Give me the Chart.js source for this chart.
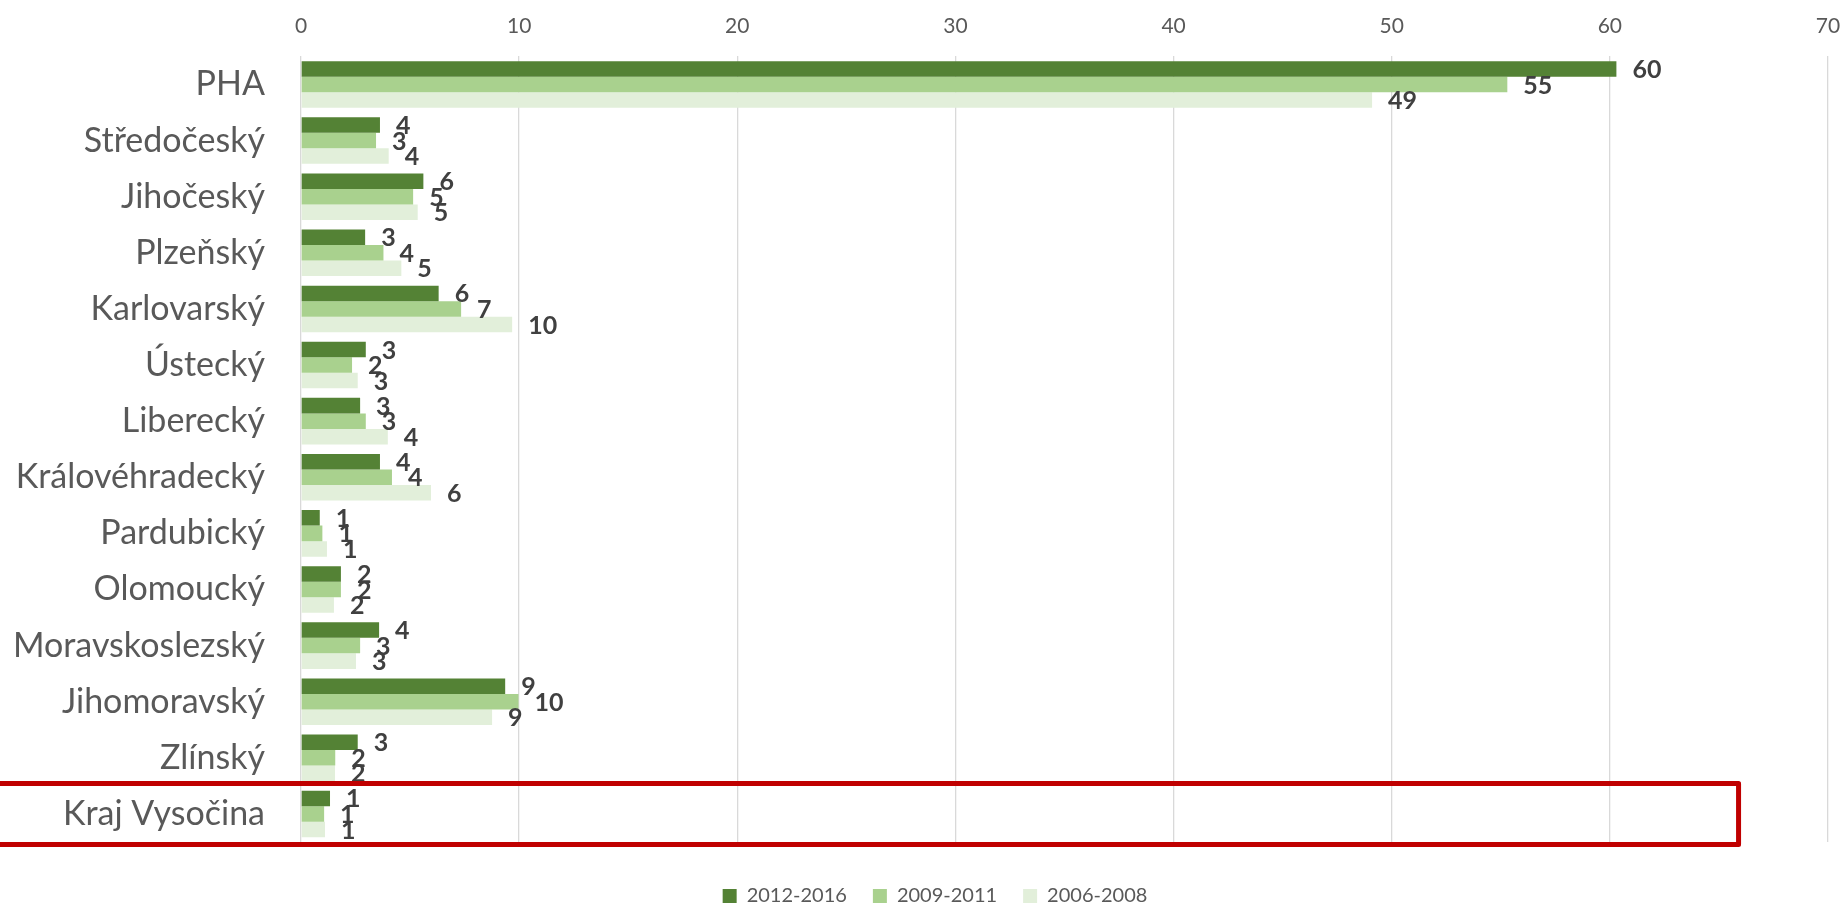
<!DOCTYPE html>
<html>
<head>
<meta charset="utf-8">
<script src="https://cdn.jsdelivr.net/npm/chart.js@4/dist/chart.umd.min.js"></script>
<style>
html,body{margin:0;padding:0;background:#fff;}
#wrap{width:1843px;height:904px;position:relative;}
</style>
</head>
<body>
<div id="wrap"><canvas id="c" width="1843" height="904"></canvas></div>
<script>
const categories = ['PHA','Středočeský','Jihočeský','Plzeňský','Karlovarský','Ústecký','Liberecký','Královéhradecký','Pardubický','Olomoucký','Moravskoslezský','Jihomoravský','Zlínský','Kraj Vysočina'];
const seriesNames = ['2012-2016','2009-2011','2006-2008'];
const values2012_2016 = [60.3,3.62,5.61,2.94,6.31,2.97,2.71,3.62,0.86,1.83,3.58,9.36,2.60,1.33];
const values2009_2011 = [55.3,3.44,5.14,3.78,7.34,2.34,2.97,4.17,0.98,1.83,2.71,9.97,1.57,1.06];
const values2006_2008 = [49.1,4.02,5.35,4.60,9.68,2.60,3.98,5.96,1.19,1.51,2.52,8.76,1.56,1.10];
const xMin = 0, xMax = 70, xStep = 10;
const highlightCategory = 'Kraj Vysočina';
const highlightRightValue = 65.9;

const colors = ['#548235','#A9D18E','#E2EFDA'];

Chart.defaults.font.family = 'Lato';

const valueLabels = {
  id: 'valueLabels',
  afterDatasetsDraw(chart) {
    const ctx = chart.ctx;
    ctx.save();
    ctx.font = 'bold 25px Lato';
    ctx.fillStyle = '#404040';
    ctx.textAlign = 'left';
    ctx.textBaseline = 'middle';
    chart.data.datasets.forEach((ds, di) => {
      const meta = chart.getDatasetMeta(di);
      meta.data.forEach((el, i) => {
        ctx.fillText(String(Math.round(ds.data[i])), el.x + 16, el.y + 1);
      });
    });
    ctx.restore();
  }
};

const highlightBox = {
  id: 'highlightBox',
  afterDraw(chart) {
    const ctx = chart.ctx;
    const ys = chart.scales.y, xs = chart.scales.x;
    const idx = categories.indexOf(highlightCategory);
    const yc = ys.getPixelForValue(idx);
    const top = yc - 30.5, bottom = yc + 30.5;
    const right = xs.getPixelForValue(highlightRightValue);
    ctx.save();
    ctx.strokeStyle = '#C00000';
    ctx.lineWidth = 5;
    ctx.lineJoin = 'round';
    ctx.beginPath();
    ctx.moveTo(-10, top);
    ctx.lineTo(right, top);
    ctx.lineTo(right, bottom);
    ctx.lineTo(-10, bottom);
    ctx.stroke();
    ctx.restore();
  }
};

const legendShift = {
  id: 'legendShift',
  afterLayout(chart) {
    if (chart.legend) {
      chart.legend.left += 21;
      chart.legend.right += 21;
    }
  }
};

new Chart(document.getElementById('c'), {
  type: 'bar',
  data: {
    labels: categories,
    datasets: [
      {label: seriesNames[0], data: values2012_2016, backgroundColor: colors[0]},
      {label: seriesNames[1], data: values2009_2011, backgroundColor: colors[1]},
      {label: seriesNames[2], data: values2006_2008, backgroundColor: colors[2]}
    ]
  },
  options: {
    indexAxis: 'y',
    responsive: false,
    animation: false,
    devicePixelRatio: 1,
    categoryPercentage: 0.83,
    barPercentage: 1.0,
    layout: {padding: {left: 0, right: 15, top: 0, bottom: -12}},
    scales: {
      x: {
        position: 'top',
        min: xMin, max: xMax,
        ticks: {stepSize: xStep, color: '#595959', font: {size: 21}, padding: 0},
        grid: {color: '#d9d9d9', lineWidth: 1.3, drawTicks: true, tickLength: 18, tickColor: 'rgba(0,0,0,0)'},
        border: {display: false},
        afterFit(scale) { scale.height = 53.5; }
      },
      y: {
        ticks: {color: '#595959', font: {size: 34}, padding: 36, autoSkip: false},
        grid: {display: false, drawTicks: false},
        border: {display: false},
        afterFit(scale) { scale.width = 301; }
      }
    },
    plugins: {
      tooltip: {enabled: false},
      legend: {
        position: 'bottom',
        title: {display: true, text: '', font: {size: 10}, padding: 3},
        labels: {boxWidth: 14, boxHeight: 14, color: '#595959', font: {size: 20}, padding: 26}
      }
    }
  },
  plugins: [valueLabels, highlightBox, legendShift]
});
</script>
</body>
</html>
